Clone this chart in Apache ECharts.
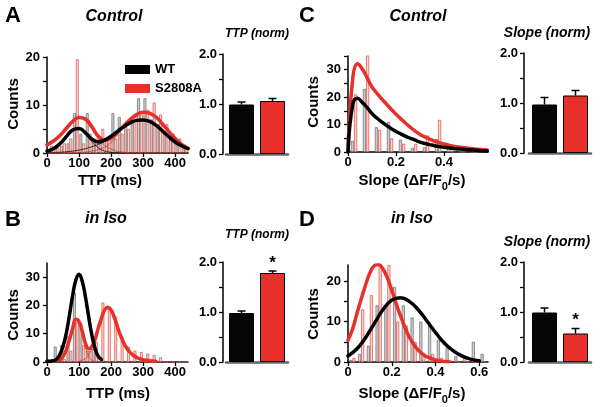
<!DOCTYPE html>
<html><head><meta charset="utf-8">
<script src="https://cdn.jsdelivr.net/npm/echarts@6/dist/echarts.min.js"></script>
<style>html,body{margin:0;padding:0;background:#fff}#c{width:603px;height:407px}</style>
</head><body><div id="c"></div>
<script>
// ---------- Panel A : TTP histogram, Control (20 ms bins) ----------
const ttpBinCenters = [10,30,50,70,90,110,130,150,170,190,210,230,250,270,290,310,330,350,370,390,410,430];
const ctrlTtpWT = [0.5,1,1.5,2,8.3,4,8.3,2.5,3,2.5,8.3,7.5,5.5,6.5,11.4,11.4,7,6,4.5,3.5,2,1];
const ctrlTtpS  = [1.5,1,2,3,19.5,2,4,3,5,3,3,4,5,8,8,9,10.5,8,6,4,3,1];
const ctrlTtpFitX = [0,20,40,60,80,100,120,140,160,180,200,220,240,260,280,300,320,340,360,380,400,420,440];
const ctrlTtpFitWT = [0.4,0.9,1.9,3.4,4.8,5.1,4.2,2.9,2.3,2.7,3.5,4.5,5.5,6.3,6.8,6.9,6.6,5.8,4.6,3.4,2.3,1.5,0.9];
const ctrlTtpFitS  = [1.7,2.5,3.6,5.1,6.6,7.4,7.1,5.5,3.5,2.7,3.1,4.3,5.7,7.0,8.0,8.5,8.3,7.5,6.1,4.5,3.0,1.8,1.0];
const ctrlTtpCompWT1 = [0.3,0.8,1.8,3.2,4.6,4.9,3.9,2.4,1.1,0.4,0.15,0.05,0,0,0,0,0,0,0,0,0,0,0];
const ctrlTtpCompWT2 = [0.05,0.1,0.15,0.25,0.4,0.6,0.9,1.3,1.8,2.4,3.2,4.2,5.2,6.1,6.7,6.9,6.6,5.8,4.6,3.4,2.3,1.5,0.9];
const ctrlTtpCompS1  = [1.6,2.4,3.5,5.0,6.5,7.2,6.6,4.9,3.0,1.6,0.8,0.35,0.15,0.05,0.02,0,0,0,0,0,0,0,0];
const ctrlTtpCompS2  = [0,0,0,0,0.05,0.1,0.2,0.4,0.7,1.2,2.2,3.8,5.5,6.9,8.0,8.5,8.3,7.5,6.1,4.5,3.0,1.8,1.0];

// ---------- Panel B : TTP histogram, in Iso ----------
const isoTtpWT = [0,5.4,6,9,24.5,13.8,4,4.7,0,0,0,0,0,0,0,0,0,0,0,0,0,0];
const isoTtpS  = [0,0.5,1,4,14,6,4,7,21,19,16,9,5.4,4,3.5,3,2.4,1.6,0,0,0,0];
const isoTtpFitWTX = [0,10,20,30,40,50,60,70,80,90,100,110,120,130,140,150,160,170];
const isoTtpFitWT  = [0.3,0.3,0.5,1.0,2.6,5.5,10,16.5,23.5,29,31,28.5,23,16,9.5,4.8,2,0.9];
const isoTtpFitSX = [0,10,20,30,40,50,60,70,80,90,100,110,120,130,140,150,160,170,180,190,200,210,220,230,240,250,260,270,280,290,300,310,320,330,340];
const isoTtpFitS  = [0.2,0.2,0.3,0.5,0.8,1.9,4.3,7.8,11.8,15.1,14.3,10.9,6.6,4.7,5.5,8.0,12.0,15.5,18.4,19.4,18.4,15.8,12.4,9.2,6.6,4.7,3.3,2.3,1.6,1.1,0.8,0.6,0.45,0.35,0.3];
const isoTtpCompS1X = [0,10,20,30,40,50,60,70,80,90,100,110,120,130,140,150,160,170];
const isoTtpCompS1  = [0,0,0,0.1,0.5,1.6,4,7.5,11.5,14.8,13.8,10,5.2,2.0,0.7,0.2,0.05,0];
const isoTtpCompS2X = [100,110,120,130,140,150,160,170,180,190,200,210,220,230,240,250,260,270,280,290,300,310,320,330,340];
const isoTtpCompS2  = [0.2,0.6,1.2,2.5,4.6,7.6,11.8,15.3,18.2,19.2,18.2,15.6,12.2,9,6.4,4.5,3.1,2.1,1.4,0.9,0.6,0.4,0.25,0.15,0.1];

// ---------- Panel C : Slope histogram, Control (0.05 bins) ----------
const ctrlSlopeBinCenters = [0.025,0.075,0.125,0.175,0.225,0.275,0.325,0.375,0.425,0.475,0.525];
const ctrlSlopeWT = [4,23,9,11,4.5,1.5,1.7,4.7,2.6,0,0];
const ctrlSlopeS  = [21,35.5,8,5,3,3,6,11.7,0.5,0,0];
const ctrlSlopeFitX = [0,0.02,0.04,0.06,0.08,0.1,0.12,0.14,0.16,0.18,0.2,0.22,0.24,0.26,0.28,0.3,0.32,0.34,0.36,0.38,0.4,0.42,0.44,0.46,0.48,0.5,0.52,0.54,0.56,0.58];
const ctrlSlopeFitS  = [0,27,32.2,30.2,27,23.7,21.5,19.4,17.5,15.6,13.8,12.1,10.5,9.0,7.6,6.4,5.5,4.7,4.0,3.4,2.9,2.5,2.1,1.8,1.6,1.4,1.2,1.0,0.85,0.7];
const ctrlSlopeFitWT = [0,17.5,19.6,18,16.2,14,12.4,11,9.7,8.5,7.5,6.6,5.7,5.0,4.3,3.6,3.1,2.7,2.3,2.0,1.7,1.5,1.3,1.1,1.0,0.8,0.7,0.6,0.5,0.4];

// ---------- Panel D : Slope histogram, in Iso (0.04 bins) ----------
const isoSlopeBinCenters = [0.02,0.06,0.1,0.14,0.18,0.22,0.26,0.3,0.34,0.38,0.42,0.46,0.5,0.54,0.58,0.62];
const isoSlopeWT = [0.5,2,4,14,13.5,18.5,14,11,10,9,5.5,3.5,1.5,1,5,2];
const isoSlopeS  = [1,13,16.5,24,24,10,9,5,2,2,1,0.5,0,0,0,0];
const isoSlopeFitSX = [0,0.02,0.04,0.06,0.08,0.1,0.12,0.14,0.16,0.18,0.2,0.22,0.24,0.26,0.28,0.3,0.32,0.34,0.36,0.38,0.4,0.42,0.44,0.46];
const isoSlopeFitS  = [5.4,8,11.8,15.5,19,22,23.8,24.1,23,20.8,17.8,14.5,11.4,8.6,6.2,4.4,3.0,2.0,1.3,0.9,0.5,0.3,0.15,0.08];
const isoSlopeFitWTX = [0,0.04,0.08,0.12,0.16,0.2,0.24,0.28,0.32,0.36,0.4,0.44,0.48,0.52,0.56,0.6];
const isoSlopeFitWT  = [1.5,3.2,6,9.5,13,15.3,15.9,15,13,10.2,7.3,4.7,2.8,1.5,0.7,0.3];

// ---------- Normalized bar panels ----------
const barCats = ['WT','S2808A'];
const ttpNormCtrl = [0.99,1.06],  ttpNormCtrlErr = [0.05,0.05];
const slopeNormCtrl = [0.97,1.15], slopeNormCtrlErr = [0.14,0.10];
const ttpNormIso = [0.98,1.78],   ttpNormIsoErr = [0.04,0.04];
const slopeNormIso = [0.99,0.57], slopeNormIsoErr = [0.09,0.10];
const sigIso = [false,true];

// ---------- Tick arrays ----------
const ttpXLabels = [0,100,200,300,400];
const slopeXLabelsC = [0,0.2,0.4];
const slopeXLabelsD = [0,0.2,0.4,0.6];
const countLabelsA = [0,10,20], countTicksA = [0,5,10,15,20];
const countLabelsB = [0,10,20,30], countTicksB = [0,10,20,30];
const countLabelsC = [0,10,20,30], countTicksC = [0,5,10,15,20,25,30,35];
const countLabelsD = [0,10,20], countTicksD = [0,5,10,15,20];
const normLabels = [0,1,2], normTicks = [0,0.5,1,1.5,2];

const FONT = '"Liberation Sans", Arial, Helvetica, sans-serif';
const RED = '#e8302a';
const lbl = {fontFamily: FONT, fontWeight: 'bold', fontSize: 13, color: '#000'};

const grids = [
  {left:47, top:57, width:141, height:96},   // A hist
  {left:226, top:54, width:62, height:100},  // A bar
  {left:348, top:56, width:140, height:96},  // C hist
  {left:529, top:53, width:62, height:100},  // C bar
  {left:47, top:263, width:141, height:99},  // B hist
  {left:226, top:262, width:62, height:100}, // B bar
  {left:348, top:265, width:140, height:97}, // D hist
  {left:529, top:262, width:62, height:100}  // D bar
];

function histX(gi, max, labels, ticks) {
  return {gridIndex: gi, type:'value', min:0, max:max,
    axisLine:{show:true, onZero:false, lineStyle:{color:'#000', width:1.5}},
    axisTick:{show:true, inside:false, length:4, customValues: ticks || labels, lineStyle:{color:'#000', width:1.3}},
    axisLabel:Object.assign({margin:4, customValues: labels, formatter: v => String(v)}, lbl),
    splitLine:{show:false}};
}
function histY(gi, max, labels, ticks) {
  return {gridIndex: gi, type:'value', min:0, max:max,
    axisLine:{show:true, onZero:false, lineStyle:{color:'#000', width:1.5}},
    axisTick:{show:true, inside:false, length:4, customValues: ticks, lineStyle:{color:'#000', width:1.3}},
    axisLabel:Object.assign({margin:7, customValues: labels, formatter: v => String(v)}, lbl),
    splitLine:{show:false}};
}
function barX(gi) {
  return {gridIndex: gi, type:'category', data: barCats,
    axisLine:{show:true, lineStyle:{color:'#666', width:2.5}},
    axisTick:{show:false}, axisLabel:{show:false}, splitLine:{show:false}};
}
function barY(gi, off) {
  return {gridIndex: gi, type:'value', min:0, max:2, offset: off,
    axisLine:{show:true, lineStyle:{color:'#000', width:1.5}},
    axisTick:{show:true, inside:false, length:4, customValues: normTicks, lineStyle:{color:'#000', width:1.3}},
    axisLabel:Object.assign({margin:6, customValues: normLabels, formatter: v => v.toFixed(1)}, lbl),
    splitLine:{show:false}};
}
function hist(gi, centers, vals, wt, gap) {
  return {type:'bar', xAxisIndex:gi, yAxisIndex:gi, barGap:'0%', barCategoryGap: gap,
    data: centers.map((c,i) => [c, vals[i]]), clip:true, silent:true, z:1,
    itemStyle: wt ? {color:'#cdcdcd', borderColor:'#6a6a6a', borderWidth:0.7}
                  : {color:'#f9d6d3', borderColor:'#e4473e', borderWidth:0.7}};
}
function curve(gi, xs, ys, color, w, name) {
  return {type:'line', name: name, xAxisIndex:gi, yAxisIndex:gi,
    data: xs.map((x,i) => [x, ys[i]]), showSymbol:false, symbol:'none',
    smooth:0.45, clip:true, silent:true, z: w > 2 ? 4 : 3,
    lineStyle:{color:color, width:w, cap:'round', join:'round'}, itemStyle:{color:color}};
}
function bars(gi, vals, sig, starGap) {
  return {type:'bar', xAxisIndex:gi, yAxisIndex:gi, barWidth:25, z:2, silent:true,
    data: vals.map((v,i) => ({value: v,
      itemStyle: i === 0 ? {color:'#050505', borderColor:'#000', borderWidth:1}
                         : {color: RED, borderColor:'#000', borderWidth:1},
      label: (sig && sig[i]) ? {show:true, position:'top', distance: starGap, formatter:'*',
        fontFamily: FONT, fontWeight:'bold', fontSize:17, color:'#000'} : {show:false}
    }))};
}
function errs(gi, vals, e) {
  return {type:'custom', xAxisIndex:gi, yAxisIndex:gi, z:5, silent:true,
    data: vals.map((v,i) => [i, v, v + e[i]]),
    renderItem: function(params, api) {
      const p0 = api.coord([api.value(0), api.value(1)]);
      const p1 = api.coord([api.value(0), api.value(2)]);
      return {type:'group', children:[
        {type:'line', shape:{x1:p0[0], y1:p0[1], x2:p1[0], y2:p1[1]}, style:{stroke:'#000', lineWidth:1.5}},
        {type:'line', shape:{x1:p1[0]-4, y1:p1[1], x2:p1[0]+4, y2:p1[1]}, style:{stroke:'#000', lineWidth:1.5}}
      ]};
    }};
}

const series = [
  // A
  hist(0, ttpBinCenters, ctrlTtpWT, true, '12%'),
  hist(0, ttpBinCenters, ctrlTtpS, false, '12%'),
  curve(0, ctrlTtpFitX, ctrlTtpCompWT1, '#000', 0.8, 'wt c1'),
  curve(0, ctrlTtpFitX, ctrlTtpCompWT2, '#000', 0.8, 'wt c2'),
  curve(0, ctrlTtpFitX, ctrlTtpCompS1, RED, 0.8, 's c1'),
  curve(0, ctrlTtpFitX, ctrlTtpCompS2, RED, 0.8, 's c2'),
  curve(0, ctrlTtpFitX, ctrlTtpFitS, RED, 3.5, 'S2808A'),
  curve(0, ctrlTtpFitX, ctrlTtpFitWT, '#000', 3.5, 'WT'),
  bars(1, ttpNormCtrl, null, 0), errs(1, ttpNormCtrl, ttpNormCtrlErr),
  // C
  hist(2, ctrlSlopeBinCenters, ctrlSlopeWT, true, '48%'),
  hist(2, ctrlSlopeBinCenters, ctrlSlopeS, false, '48%'),
  curve(2, ctrlSlopeFitX, ctrlSlopeFitS, RED, 3.5, 'S2808A c'),
  curve(2, ctrlSlopeFitX, ctrlSlopeFitWT, '#000', 3.5, 'WT c'),
  bars(3, slopeNormCtrl, null, 0), errs(3, slopeNormCtrl, slopeNormCtrlErr),
  // B
  hist(4, ttpBinCenters, isoTtpWT, true, '12%'),
  hist(4, ttpBinCenters, isoTtpS, false, '12%'),
  curve(4, isoTtpCompS1X, isoTtpCompS1, RED, 0.8, 'b c1'),
  curve(4, isoTtpCompS2X, isoTtpCompS2, RED, 0.8, 'b c2'),
  curve(4, isoTtpFitSX, isoTtpFitS, RED, 3.5, 'S2808A b'),
  curve(4, isoTtpFitWTX, isoTtpFitWT, '#000', 3.5, 'WT b'),
  bars(5, ttpNormIso, sigIso, 1), errs(5, ttpNormIso, ttpNormIsoErr),
  // D
  hist(6, isoSlopeBinCenters, isoSlopeWT, true, '30%'),
  hist(6, isoSlopeBinCenters, isoSlopeS, false, '30%'),
  curve(6, isoSlopeFitSX, isoSlopeFitS, RED, 3.5, 'S2808A d'),
  curve(6, isoSlopeFitWTX, isoSlopeFitWT, '#000', 3.5, 'WT d'),
  bars(7, slopeNormIso, sigIso, 5), errs(7, slopeNormIso, slopeNormIsoErr)
];

function txt(x, y, text, size, italic, extra) {
  return Object.assign({type:'text', x:x, y:y, silent:true, style:{text:text, fill:'#000',
    font: (italic ? 'italic ' : '') + 'bold ' + size + 'px ' + FONT, textAlign:'center', textVerticalAlign:'middle'}}, extra || {});
}
function slopeLabel(x, y) {
  return {type:'text', x:x, y:y, silent:true, style:{
    text:'{a|Slope (\u0394F/F}{s|0}{a|/s)}', textAlign:'center', textVerticalAlign:'middle', fill:'#000',
    rich:{a:{fontFamily:FONT, fontWeight:'bold', fontSize:15, lineHeight:22, verticalAlign:'middle'},
          s:{fontFamily:FONT, fontWeight:'bold', fontSize:11, lineHeight:22, verticalAlign:'bottom'}}}};
}

const graphic = [
  txt(13, 16, 'A', 22, false), txt(307, 16, 'C', 22, false),
  txt(13, 220, 'B', 22, false), txt(307, 220, 'D', 22, false),
  txt(114, 17, 'Control', 16, true), txt(418, 17, 'Control', 16, true),
  txt(106, 219, 'in Iso', 16, true), txt(412, 219, 'in Iso', 16, true),
  txt(257, 34, 'TTP (norm)', 12, true), txt(547, 33, 'Slope (norm)', 14, true),
  txt(257, 235, 'TTP (norm)', 12, true), txt(547, 242, 'Slope (norm)', 14, true),
  txt(14, 104, 'Counts', 15, false, {rotation: Math.PI/2}),
  txt(314, 102, 'Counts', 15, false, {rotation: Math.PI/2}),
  txt(14, 315, 'Counts', 15, false, {rotation: Math.PI/2}),
  txt(314, 314, 'Counts', 15, false, {rotation: Math.PI/2}),
  txt(110, 181, 'TTP (ms)', 15, false), txt(118, 394, 'TTP (ms)', 15, false),
  slopeLabel(412, 181), slopeLabel(412, 394)
];

const chart = echarts.init(document.getElementById('c'), null, {renderer:'canvas'});
chart.setOption({
  animation:false, backgroundColor:'#fff',
  grid: grids,
  xAxis: [histX(0,440,ttpXLabels), barX(1), histX(2,0.583,slopeXLabelsC), barX(3),
          histX(4,440,ttpXLabels), barX(5), histX(6,0.64,slopeXLabelsD), barX(7)],
  yAxis: [histY(0,20,countLabelsA,countTicksA), barY(1,3), histY(2,35,countLabelsC,countTicksC), barY(3,5),
          histY(4,35,countLabelsB,countTicksB), barY(5,3), histY(6,24,countLabelsD,countTicksD), barY(7,5)],
  legend: {data:['WT','S2808A'], left:120, top:58, orient:'vertical', icon:'rect', itemWidth:25, itemHeight:9,
    itemGap:6, selectedMode:false, textStyle:{fontFamily:FONT, fontWeight:'bold', fontSize:13, color:'#000'}},
  graphic: graphic,
  series: series
});
</script></body></html>
